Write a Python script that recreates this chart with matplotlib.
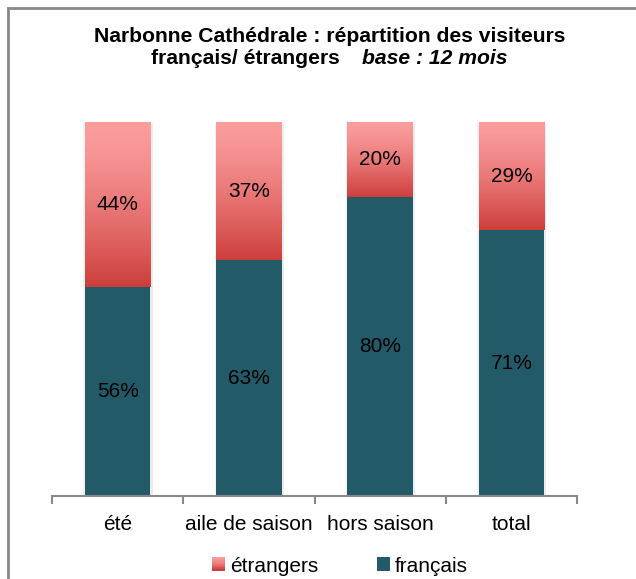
import numpy as np
import matplotlib
matplotlib.use('Agg')
import matplotlib.pyplot as plt
from matplotlib.patches import Rectangle
from matplotlib.legend_handler import HandlerBase
from matplotlib import patheffects
from matplotlib.colors import to_rgb

categories = ['été', 'aile de saison', 'hors saison', 'total']
francais = [56, 63, 80, 71]
etrangers = [44, 37, 20, 29]
series_names = ['étrangers', 'français']

plt.rcParams['font.family'] = ['Liberation Sans', 'DejaVu Sans']

teal = '#235a68'
top_col = np.array(to_rgb('#fb9d9d'))
bot_col = np.array(to_rgb('#cd3e3b'))


def gradient(n=256):
	t = np.linspace(0, 1, n) ** 1.4
	g = top_col[None, :] * (1 - t[:, None]) + bot_col[None, :] * t[:, None]
	return g[:, None, :]


class GradientHandler(HandlerBase):
	def create_artists(self, legend, orig_handle, xdescent, ydescent, width, height, fontsize, trans):
		size = height
		x0 = xdescent * -1 + (width - size) / 2
		y0 = -ydescent
		n = 12
		arts = []
		g = gradient(n)[:, 0, :]
		for i in range(n):
			r = Rectangle((x0, y0 + size - (i + 1) * size / n), size, size / n + 0.3,
						  facecolor=g[i], edgecolor='none', transform=trans)
			arts.append(r)
		return arts


class SquareHandler(HandlerBase):
	def create_artists(self, legend, orig_handle, xdescent, ydescent, width, height, fontsize, trans):
		size = height
		r = Rectangle((-xdescent + (width - size) / 2, -ydescent), size, size,
					  facecolor=teal, edgecolor='none', transform=trans)
		return [r]


fig = plt.figure(figsize=(6.36, 5.79), dpi=100)
ax = fig.add_axes([52 / 636, 1 - 496 / 579, 525 / 636, 374 / 579])

x = np.arange(len(categories))
w = 0.5

# soft shadow under the bars
ax.bar(x, 1.0, w, color='white', zorder=1,
	   path_effects=[patheffects.SimplePatchShadow(offset=(1.5, -1.5), shadow_rgbFace='gray', alpha=0.15),
					 patheffects.SimplePatchShadow(offset=(-1.0, -1.0), shadow_rgbFace='gray', alpha=0.1),
					 patheffects.Normal()])

ax.bar(x, np.array(francais) / 100, w, color=teal, zorder=2)

for i in range(len(categories)):
	b = francais[i] / 100
	ax.imshow(gradient(), extent=[x[i] - w / 2, x[i] + w / 2, b, 1.0], aspect='auto', zorder=2)
	ax.text(x[i], b / 2, str(francais[i]) + '%', ha='center', va='center', fontsize=15, zorder=3)
	ax.text(x[i], b + (1 - b) / 2, str(etrangers[i]) + '%', ha='center', va='center', fontsize=15, zorder=3)

ax.set_xlim(-0.5, len(categories) - 0.5)
ax.set_ylim(0, 1)
ax.set_yticks([])
for s in ['left', 'right', 'top']:
	ax.spines[s].set_visible(False)
ax.spines['bottom'].set_color('#888888')
ax.spines['bottom'].set_linewidth(1.5)

ax.set_xticks(x)
ax.set_xticklabels(categories, fontsize=15)
ax.tick_params(axis='x', which='major', length=0, pad=14)
ax.set_xticks(np.arange(-0.5, len(categories)), minor=True)
ax.tick_params(axis='x', which='minor', length=6, width=1.5, color='#888888')

h1 = Rectangle((0, 0), 1, 1)
h2 = Rectangle((0, 0), 1, 1)
ax.legend([h1, h2], series_names, handler_map={h1: GradientHandler(), h2: SquareHandler()},
		  loc='center', bbox_to_anchor=(340 / 636, 1 - 566 / 579), bbox_transform=fig.transFigure,
		  ncol=2, frameon=False, fontsize=15, handlelength=0.63, handleheight=0.63,
		  handletextpad=0.25, columnspacing=2.8, borderpad=0)

fig.text(330 / 636, 1 - 42 / 579, 'Narbonne Cathédrale : répartition des visiteurs',
		 ha='center', va='baseline', fontsize=15.2, fontweight='bold')
fig.text(340 / 636, 1 - 64 / 579, 'français/ étrangers', ha='right', va='baseline', fontsize=15.2, fontweight='bold')
fig.text(362 / 636, 1 - 64 / 579, 'base : 12 mois', ha='left', va='baseline', fontsize=15.2,
		 fontweight='bold', fontstyle='italic')

border = Rectangle((7.5 / 636, -0.1), 1.2, 1.1 - 8 / 579, transform=fig.transFigure,
				   fill=False, edgecolor='#888888', linewidth=2)
fig.patches.append(border)

fig.savefig('out.png', dpi=100)
